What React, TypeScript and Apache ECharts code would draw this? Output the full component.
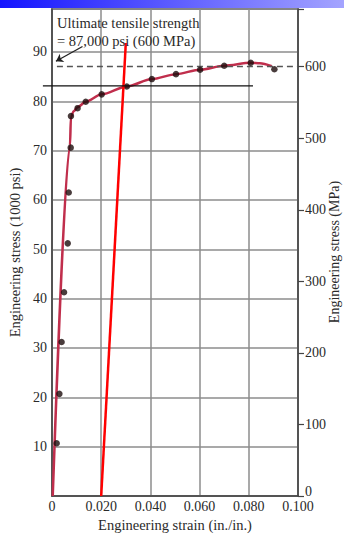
import React, { useEffect, useRef } from "react";
import * as echarts from "echarts";

// stress-strain curve (line), strain in in./in., stress in 1000 psi
const curveStrain = [0.0003, 0.0073, 0.0077, 0.0088, 0.0104, 0.0137, 0.0202, 0.0304, 0.0406, 0.0504, 0.0602, 0.07, 0.0808, 0.0845, 0.0893];
const curveStress = [0, 71, 76.8, 78.0, 78.8, 79.9, 81.4, 83.0, 84.5, 85.5, 86.4, 87.2, 87.8, 87.7, 87.1];
// measured data points (dots)
const dotStrain = [0.0019, 0.003, 0.0039, 0.0049, 0.0064, 0.0068, 0.0076, 0.0077, 0.0104, 0.0137, 0.0202, 0.0304, 0.0406, 0.0504, 0.0602, 0.07, 0.0808, 0.0904];
const dotStress = [10.7, 20.7, 31.2, 41.3, 51.2, 61.5, 70.6, 77.0, 78.6, 79.9, 81.4, 83.0, 84.5, 85.5, 86.4, 87.2, 87.8, 86.5];
// 0.2% offset line
const offsetStrain = [0.02, 0.03];
const offsetStress = [0, 91.8];
// annotations
const utsStress = 87;
const utsStrainRange = [0.002, 0.1];
const yieldStress = 83.1;
const yieldStrainRange = [-0.0037, 0.0817];
const arrowFrom = [0.0124, 91.1];
const arrowTo = [0.0016, 88.1];
const annotationLines = ["Ultimate tensile strength", "= 87,000 psi (600 MPa)"];
const rightTitle = "Engineering stress (MPa)";

const xTicks = [0, 0.02, 0.04, 0.06, 0.08, 0.1];
const yMaxKsi = 98.7;
const ksiToMpa = 6.895;

const FONT = "'Liberation Serif', 'DejaVu Serif', serif";
const TXT = "#2a2a2a";

export default function App() {
  const ref = useRef<HTMLDivElement>(null);
  useEffect(() => {
    document.body.style.margin = "0";
    if (!ref.current) return;
    const chart = echarts.init(ref.current, null, { renderer: "svg" });
    const option: any = {
      animation: false,
      backgroundColor: "#ffffff",
      grid: {
        left: 52,
        right: 46,
        top: 9,
        bottom: 40,
        show: true,
        borderColor: "#444",
        borderWidth: 1.5,
        containLabel: false,
        outerBoundsMode: "none",
      },
      xAxis: {
        type: "value",
        min: 0,
        max: 0.1,
        interval: 0.02,
        name: "Engineering strain (in./in.)",
        nameLocation: "middle",
        nameGap: 20,
        nameTextStyle: { fontFamily: FONT, fontSize: 14.5, color: TXT },
        axisLine: { show: true, lineStyle: { color: "#444", width: 1.5 } },
        axisTick: { show: false },
        axisLabel: {
          fontFamily: FONT,
          fontSize: 14,
          color: TXT,
          margin: 3,
          formatter: (v: number) => {
            const t = xTicks.find((x) => Math.abs(x - v) < 1e-9);
            if (t === undefined) return "";
            return t === 0 ? "0" : t.toFixed(3);
          },
        },
        splitLine: { show: true, lineStyle: { color: "#8c8c8c", width: 1.5 } },
      },
      yAxis: [
        {
          type: "value",
          min: 0,
          max: yMaxKsi,
          interval: 10,
          name: "Engineering stress (1000 psi)",
          nameLocation: "middle",
          nameGap: 28,
          nameRotate: 90,
          nameTextStyle: { fontFamily: FONT, fontSize: 14.5, color: TXT },
          axisLine: { show: true, lineStyle: { color: "#444", width: 1.5 } },
          axisTick: { show: false },
          axisLabel: {
            fontFamily: FONT,
            fontSize: 14,
            color: TXT,
            margin: 5,
            formatter: (v: number) => (v === 0 || Math.abs(v % 10) > 1e-6 ? "" : String(v)),
          },
          splitLine: { show: true, lineStyle: { color: "#8c8c8c", width: 1.5 } },
        },
        {
          type: "value",
          position: "right",
          min: 0,
          max: yMaxKsi * ksiToMpa,
          interval: 100,
          axisLine: { show: true, lineStyle: { color: "#444", width: 1.5 } },
          axisTick: { show: true, inside: false, length: 6, lineStyle: { color: "#444", width: 1.2 } },
          axisLabel: {
            fontFamily: FONT,
            fontSize: 14,
            color: TXT,
            margin: 7,
            formatter: (v: number) => {
              if (Math.abs(v % 100) > 1e-6) return "";
              return v === 0 ? "{z|0}" : String(v);
            },
            rich: { z: { fontFamily: FONT, fontSize: 14, color: TXT, padding: [0, 0, 9, 0] } },
          },
          splitLine: { show: false },
        },
      ],
      series: [
        {
          type: "line",
          name: "curve",
          data: curveStrain.map((x, i) => [x, curveStress[i]]),
          smooth: 0.3,
          smoothMonotone: "x",
          showSymbol: false,
          lineStyle: { color: "#c02e4c", width: 2.5 },
          z: 3,
          markLine: {
            silent: true,
            symbol: ["none", "none"],
            label: { show: false },
            data: [
              [
                { coord: [utsStrainRange[0], utsStress], lineStyle: { color: "#555", width: 1.3, type: [6, 4] } },
                { coord: [utsStrainRange[1], utsStress] },
              ],
            ],
          },
        },
        {
          type: "line",
          name: "arrow",
          data: [],
          markLine: {
            silent: true,
            symbol: ["none", "arrow"],
            symbolSize: 7,
            label: { show: false },
            lineStyle: { color: "#222", width: 1.3, type: "solid" },
            data: [[{ coord: arrowFrom }, { coord: arrowTo }]],
          },
        },
        {
          type: "scatter",
          name: "points",
          data: dotStrain.map((x, i) => [x, dotStress[i]]),
          symbol: "circle",
          symbolSize: 6.5,
          itemStyle: { color: "#1c0b0b" },
          z: 5,
        },
        {
          type: "line",
          name: "offset",
          data: offsetStrain.map((x, i) => [x, offsetStress[i]]),
          showSymbol: false,
          lineStyle: { color: "#ff0000", width: 2.5 },
          z: 6,
        },
      ],
    };
    chart.setOption(option);

    const p1 = chart.convertToPixel({ xAxisIndex: 0, yAxisIndex: 0 }, [yieldStrainRange[0], yieldStress]);
    const p2 = chart.convertToPixel({ xAxisIndex: 0, yAxisIndex: 0 }, [yieldStrainRange[1], yieldStress]);
    chart.setOption({
      graphic: [
        {
          type: "rect",
          shape: { x: 0, y: 0, width: 344, height: 8 },
          style: {
            fill: {
              type: "linear",
              x: 0,
              y: 0,
              x2: 1,
              y2: 0,
              colorStops: [
                { offset: 0, color: "#1414ff" },
                { offset: 1, color: "#a4a4ff" },
              ],
            },
          },
          z: 1000,
        },
        {
          type: "line",
          shape: { x1: p1[0], y1: p1[1], x2: p2[0], y2: p2[1] },
          style: { stroke: "#111", lineWidth: 1.3 },
          z: 50,
        },
        {
          type: "text",
          left: 57,
          top: 14,
          style: {
            text: annotationLines.join("\n"),
            font: `14.5px ${FONT}`,
            fill: TXT,
            lineHeight: 18,
          },
          z: 60,
        },
        {
          type: "text",
          x: 334,
          y: 252,
          rotation: Math.PI / 2,
          style: {
            text: rightTitle,
            font: `14px ${FONT}`,
            fill: TXT,
            align: "center",
            verticalAlign: "middle",
          },
          z: 60,
        },
      ],
    });
    return () => chart.dispose();
  }, []);
  return <div ref={ref} style={{ position: "fixed", left: 0, top: 0, width: 344, height: 536 }} />;
}
